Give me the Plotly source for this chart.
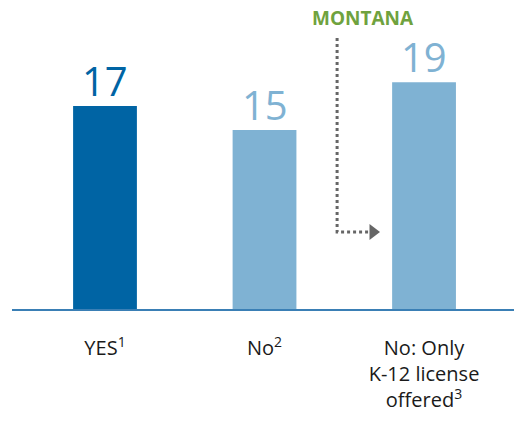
import plotly.graph_objects as go

categories = ["YES<sup>1</sup>", "No<sup>2</sup>", "No: Only<br>K-12 license<br>offered<sup>3</sup>"]
values = [17, 15, 19]
colors = ["#0064A4", "#7FB2D3", "#7FB2D3"]

# callout path (in data units): from label down, then right to bar 3
callout_x = [1.455, 1.455, 1.66]
callout_y = [22.7, 6.45, 6.45]

fig = go.Figure()
fig.add_trace(go.Bar(
    x=[0, 1, 2], y=values, width=0.40,
    marker=dict(color=colors, line=dict(width=0)),
    hoverinfo="skip",
))
for i, v in enumerate(values):
    fig.add_annotation(x=i, y=v, xref="x", yref="y", text=str(v), showarrow=False,
                       yanchor="bottom", yshift=-4,
                       font=dict(size=40, color=colors[i], family="Open Sans"))
fig.add_trace(go.Scatter(
    x=callout_x, y=callout_y, mode="lines",
    line=dict(color="#666666", width=3, dash="dot"), hoverinfo="skip",
))
fig.add_trace(go.Scatter(
    x=[1.68], y=[6.45], mode="markers",
    marker=dict(symbol="triangle-right", size=14, color="#666666"), hoverinfo="skip",
))
fig.add_annotation(
    x=1.618, y=24.35, xref="x", yref="y", text="<b>MONTANA</b>", showarrow=False,
    font=dict(size=19, color="#6FA23E", family="Open Sans"), yanchor="middle",
)
fig.update_layout(
    width=514, height=444, showlegend=False,
    margin=dict(l=12, r=0, t=0, b=135),
    plot_bgcolor="white", paper_bgcolor="white",
    font=dict(family="Open Sans", size=20, color="#1a1a1a"),
    xaxis=dict(range=[-0.583, 2.564], tickmode="array", tickvals=[0, 1, 2],
               ticktext=categories, showgrid=False, zeroline=False,
               showline=True, linecolor="#3A7FB5", linewidth=2,
               ticks="outside", ticklen=20, tickcolor="rgba(0,0,0,0)"),
    yaxis=dict(range=[0, 25.88], visible=False),
)
fig.write_html("out.html", config={"displayModeBar": False},
               post_script="document.body.style.margin='0';")
